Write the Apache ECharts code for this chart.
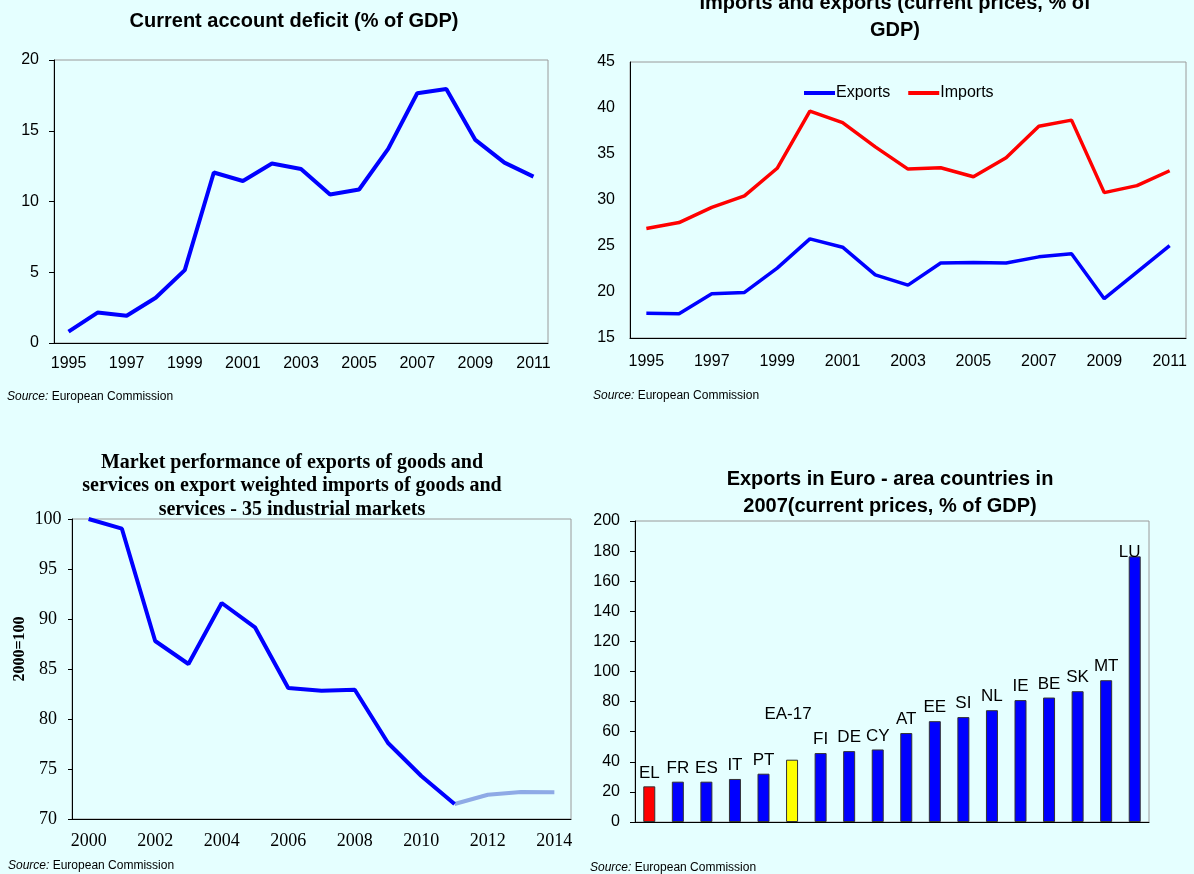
<!DOCTYPE html>
<html lang="en">
<head>
    <meta charset="UTF-8">
    <title>Greece external sector</title>
    <style>
        html, body { margin: 0; padding: 0; background: #e5ffff; }
        #chartmain { width: 1194px; height: 874px; }
    </style>
</head>
<body>
    <div id="chartmain"></div>
    <script src="https://cdn.jsdelivr.net/npm/echarts@6/dist/echarts.min.js"></script>
    <script type="text/javascript">
        // top left - current account deficit
        var caYears = ['1995', '1996', '1997', '1998', '1999', '2000', '2001', '2002', '2003',
            '2004', '2005', '2006', '2007', '2008', '2009', '2010', '2011'];
        var caDeficit = [0.8, 2.15, 1.93, 3.2, 5.15, 12.05, 11.45, 12.68, 12.3, 10.5, 10.85, 13.72, 17.65, 17.95, 14.35, 12.75, 11.76];

        // top right - imports and exports
        var tradeYears = caYears;
        var exportsGdp = [17.7, 17.64, 19.8, 19.95, 22.6, 25.77, 24.87, 21.87, 20.75, 23.15, 23.2, 23.15, 23.82, 24.15, 19.27, 22.16, 25.05];
        var importsGdp = [26.9, 27.55, 29.2, 30.45, 33.45, 39.65, 38.42, 35.78, 33.36, 33.5, 32.53, 34.6, 38.02, 38.68, 30.8, 31.56, 33.18];

        // bottom left - market performance (2000=100)
        var mpYears = ['2000', '2001', '2002', '2003', '2004', '2005', '2006', '2007', '2008',
            '2009', '2010', '2011', '2012', '2013', '2014'];
        var mpActual = [100, 99.03, 87.8, 85.5, 91.6, 89.17, 83.1, 82.83, 82.93, 77.6, 74.3, 71.5, '-', '-', '-'];
        var mpForecast = ['-', '-', '-', '-', '-', '-', '-', '-', '-', '-', '-', 71.5, 72.43, 72.7, 72.68];

        // bottom right - exports in euro area 2007
        var countries = ['EL', 'FR', 'ES', 'IT', 'PT', 'EA-17', 'FI', 'DE', 'CY', 'AT', 'EE', 'SI', 'NL', 'IE', 'BE', 'SK', 'MT', 'LU'];
        var exports2007 = [23.7, 26.8, 26.8, 28.6, 32.1, 41.4, 45.8, 47.1, 48.2, 59.1, 67.0, 69.7, 74.3, 81.0, 82.7, 86.9, 94.2, 176.5];

        var sans = 'Liberation Sans, Arial, sans-serif';
        var serif = 'Liberation Serif, Times New Roman, serif';

        var barData = countries.map(function (c, i) {
            var item = { value: exports2007[i], itemStyle: { color: '#0000ff' } };
            if (c === 'EL') item.itemStyle.color = '#ff0000';
            if (c === 'EA-17') {
                item.itemStyle.color = '#ffff00';
                item.label = { offset: [-4, -32] };
            }
            if (c === 'LU') item.label = { offset: [-5, 9] };
            return item;
        });

        function srcText(x, y) {
            return {
                type: 'text',
                left: x,
                top: y,
                style: {
                    text: '{i|Source:} European Commission',
                    fill: '#000',
                    font: '12px ' + sans,
                    rich: { i: { fontStyle: 'italic', fontSize: 12, fontFamily: sans } }
                }
            };
        }

        var gridBorder = { show: true, borderColor: '#9a9a9a', borderWidth: 1 };
        var blackLine = { show: true, lineStyle: { color: '#000', width: 1 } };

        var myChart = echarts.init(document.getElementById('chartmain'));
        var option = {
            animation: false,
            backgroundColor: '#e5ffff',
            title: [{
                text: 'Current account deficit (% of GDP)',
                left: 289, top: 6, textAlign: 'center',
                textStyle: { fontFamily: sans, fontSize: 20, fontWeight: 'bold', color: '#000', lineHeight: 20 }
            }, {
                text: 'Imports and exports (current prices, % of\nGDP)',
                left: 890, top: -15, textAlign: 'center',
                textStyle: { fontFamily: sans, fontSize: 20, fontWeight: 'bold', color: '#000', lineHeight: 27 }
            }, {
                text: 'Market performance of exports of goods and\nservices on export weighted imports of goods and\nservices - 35 industrial markets',
                left: 287, top: 446, textAlign: 'center',
                textStyle: { fontFamily: serif, fontSize: 20, fontWeight: 'bold', color: '#000', lineHeight: 23.5 }
            }, {
                text: 'Exports in Euro - area countries in\n2007(current prices, % of GDP)',
                left: 885, top: 461, textAlign: 'center',
                textStyle: { fontFamily: sans, fontSize: 20, fontWeight: 'bold', color: '#000', lineHeight: 27 }
            }],
            legend: {
                data: ['Exports', 'Imports'],
                left: 799, top: 80,
                icon: 'rect',
                itemWidth: 31, itemHeight: 4, itemGap: 18,
                textStyle: { fontFamily: sans, fontSize: 16, color: '#000', padding: [0, 0, 0, -4] }
            },
            grid: [
                Object.assign({ left: 54, top: 60, width: 494, height: 283 }, gridBorder),
                Object.assign({ left: 630, top: 62, width: 556, height: 276 }, gridBorder),
                Object.assign({ left: 72, top: 519, width: 499, height: 300 }, gridBorder),
                Object.assign({ left: 635, top: 521, width: 514, height: 301 }, gridBorder)
            ],
            xAxis: [{
                gridIndex: 0, type: 'category', data: caYears,
                axisLine: blackLine,
                axisTick: { interval: 0, length: 5, lineStyle: { color: '#000' } },
                axisLabel: { interval: 1, margin: 13, fontFamily: sans, fontSize: 16, color: '#000' }
            }, {
                gridIndex: 1, type: 'category', data: tradeYears,
                axisLine: blackLine,
                axisTick: { show: false },
                axisLabel: { interval: 1, margin: 16, fontFamily: sans, fontSize: 16, color: '#000' }
            }, {
                gridIndex: 2, type: 'category', data: mpYears,
                axisLine: blackLine,
                axisTick: { interval: 0, length: 4, lineStyle: { color: '#000' } },
                axisLabel: { interval: 1, margin: 13, fontFamily: serif, fontSize: 18, color: '#000' }
            }, {
                gridIndex: 3, type: 'category', data: countries,
                axisLine: blackLine,
                axisTick: { show: false },
                axisLabel: { show: false }
            }],
            yAxis: [{
                gridIndex: 0, type: 'value', min: 0, max: 20, interval: 5,
                axisLine: blackLine,
                axisTick: { show: true, length: 5, lineStyle: { color: '#000' } },
                splitLine: { show: false },
                axisLabel: { margin: 15, fontFamily: sans, fontSize: 16, color: '#000' }
            }, {
                gridIndex: 1, type: 'value', min: 15, max: 45, interval: 5,
                axisLine: blackLine,
                axisTick: { show: false },
                splitLine: { show: false },
                axisLabel: { margin: 15, fontFamily: sans, fontSize: 16, color: '#000' }
            }, {
                gridIndex: 2, type: 'value', min: 70, max: 100, interval: 5,
                axisLine: blackLine,
                axisTick: { show: true, length: 4, lineStyle: { color: '#000' } },
                splitLine: { show: false },
                axisLabel: { margin: 24, align: 'center', fontFamily: serif, fontSize: 18, color: '#000' }
            }, {
                gridIndex: 3, type: 'value', min: 0, max: 200, interval: 20,
                axisLine: blackLine,
                axisTick: { show: true, length: 5, lineStyle: { color: '#000' } },
                splitLine: { show: false },
                axisLabel: { margin: 15, fontFamily: sans, fontSize: 16, color: '#000' }
            }],
            series: [{
                name: 'Current account deficit',
                type: 'line', xAxisIndex: 0, yAxisIndex: 0,
                data: caDeficit, symbol: 'none',
                lineStyle: { color: '#0000ff', width: 4 },
                itemStyle: { color: '#0000ff' }
            }, {
                name: 'Exports',
                type: 'line', xAxisIndex: 1, yAxisIndex: 1,
                data: exportsGdp, symbol: 'none',
                lineStyle: { color: '#0000ff', width: 3.5 },
                itemStyle: { color: '#0000ff' }
            }, {
                name: 'Imports',
                type: 'line', xAxisIndex: 1, yAxisIndex: 1,
                data: importsGdp, symbol: 'none',
                lineStyle: { color: '#ff0000', width: 3.5 },
                itemStyle: { color: '#ff0000' }
            }, {
                name: 'Market performance',
                type: 'line', xAxisIndex: 2, yAxisIndex: 2,
                data: mpActual, symbol: 'none',
                lineStyle: { color: '#0000ff', width: 4 },
                itemStyle: { color: '#0000ff' }
            }, {
                name: 'Market performance forecast',
                type: 'line', xAxisIndex: 2, yAxisIndex: 2,
                data: mpForecast, symbol: 'none', z: 1,
                lineStyle: { color: '#8eaae6', width: 4 },
                itemStyle: { color: '#8eaae6' }
            }, {
                name: 'Exports 2007',
                type: 'bar', xAxisIndex: 3, yAxisIndex: 3,
                data: barData, barWidth: 12,
                itemStyle: { borderColor: '#333', borderWidth: 1 },
                label: {
                    show: true, position: 'top', distance: 5,
                    fontFamily: sans, fontSize: 17, color: '#000',
                    formatter: function (p) { return p.name; }
                }
            }],
            graphic: [
                {
                    type: 'text',
                    x: 20, y: 649, rotation: Math.PI / 2,
                    style: {
                        text: '2000=100',
                        font: 'bold 16px ' + serif,
                        fill: '#000',
                        textAlign: 'center',
                        textVerticalAlign: 'middle'
                    }
                },
                srcText(7, 391),
                srcText(593, 390),
                srcText(8, 860),
                srcText(590, 862)
            ]
        };
        myChart.setOption(option);
    </script>
</body>
</html>
